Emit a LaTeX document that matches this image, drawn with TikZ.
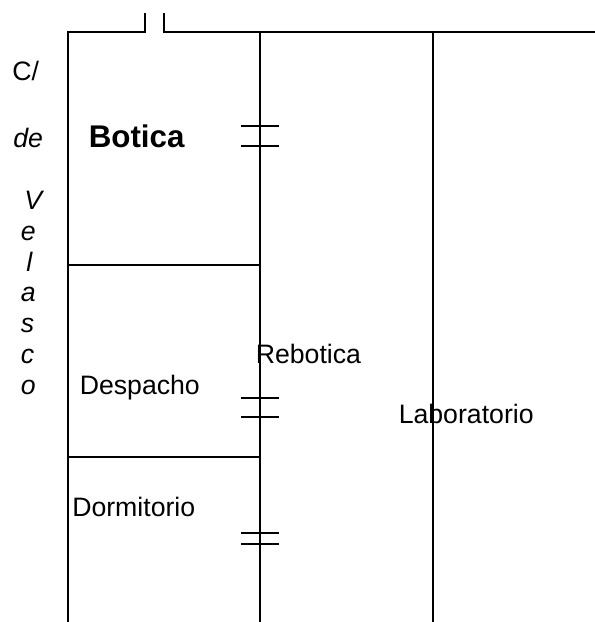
\documentclass[tikz,border=0pt]{standalone}
\usepackage{fontspec}
\setmainfont{Liberation Sans}
\tikzset{wall/.style={draw=black,line width=1.3pt},door/.style={draw=black,line width=1.1pt},
lab/.style={inner sep=0pt,anchor=base west,font=\fontsize{20}{23}\selectfont},
street/.style={inner sep=0pt,anchor=base west,font=\fontsize{20}{23}\selectfont\itshape}}
\begin{document}
\begin{tikzpicture}[x=0.75pt,y=-0.75pt]
\useasboundingbox (0,0) rectangle (595,622);
\draw[wall] (68,622) -- (68,32) -- (145,32) -- (145,13);
\draw[wall] (164,13) -- (164,32) -- (595,32);
\draw[wall] (260,32) -- (260,622);
\draw[wall] (433,32) -- (433,622);
\draw[door] (68,265) -- (260,265);
\draw[door] (68,457) -- (260,457);
\foreach \y in {126,146,398,417,533,544} \draw[door] (241,\y) -- (279,\y);
\node[lab,font=\fontsize{23.5}{27}\selectfont\bfseries] (b) at (88.5,147) {Botica};
\node[lab] (d) at (79.5,394) {Despacho};
\node[lab] (do) at (72,516) {Dormitorio};
\node[lab] (r) at (255.5,363) {Rebotica};
\node[lab] (l) at (398.5,423.500) {Laboratorio};
\node[lab] (s0) at (12,80) {C/};
\node[street] (s1) at (13,147) {de};
\node[street] (s2) at (24,209) {V};
\foreach \t/\x/\y in {e/20.5/240,l/26/271,a/20.5/301,s/20.5/332,c/20.5/363,o/20.5/394} \node[street] (s\t) at (\x,\y) {\t};
\end{tikzpicture}
\end{document}
